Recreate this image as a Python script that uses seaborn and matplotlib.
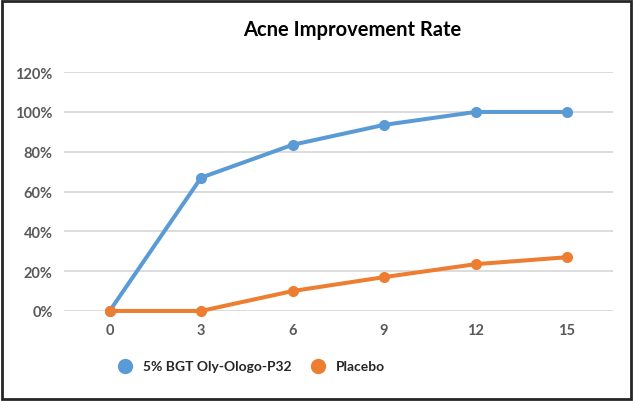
import matplotlib.pyplot as plt
import pandas as pd
import seaborn as sns
from matplotlib.lines import Line2D
from matplotlib.patches import Rectangle

# Data
weeks = ['0', '3', '6', '9', '12', '15']
bgt_rate = [0.0, 0.67, 0.835, 0.935, 1.0, 1.0]
placebo_rate = [0.0, 0.0, 0.10, 0.17, 0.235, 0.27]
series_names = ['5% BGT Oly-Ologo-P32', 'Placebo']
y_ticks = [0, 0.2, 0.4, 0.6, 0.8, 1.0, 1.2]

df = pd.DataFrame({
    'week': weeks * 2,
    'pos': list(range(len(weeks))) * 2,
    'rate': bgt_rate + placebo_rate,
    'series': [series_names[0]] * len(weeks) + [series_names[1]] * len(weeks),
})

sns.set_theme(style='white')
plt.rcParams['font.family'] = ['Lato', 'DejaVu Sans']

palette = {series_names[0]: '#5B9BD5', series_names[1]: '#ED7D31'}
tick_color = '#595959'

fig = plt.figure(figsize=(6.33, 4.02), dpi=100)
ax = fig.add_axes([0.101, 0.224, 0.867, 0.594])

for y in y_ticks:
    ax.axhline(y, color='#d9d9d9', lw=1.3, zorder=0)

# draw each series separately so the placebo line sits on top (as in the original)
for z, name in enumerate(series_names):
    sns.lineplot(data=df[df['series'] == name], x='pos', y='rate', color=palette[name],
                 marker='o', markersize=8, markeredgewidth=0, linewidth=2.9,
                 legend=False, ax=ax, clip_on=False, zorder=3 + z)

ax.set_xlim(-0.5, len(weeks) - 0.5)
ax.set_ylim(0, 1.2)
ax.set_xticks(range(len(weeks)))
ax.set_xticklabels(weeks)
ax.set_yticks(y_ticks)
ax.set_yticklabels([f'{int(round(v * 100))}%' for v in y_ticks])
ax.set_xlabel('')
ax.set_ylabel('')
for side in ax.spines.values():
    side.set_visible(False)
ax.tick_params(axis='both', length=0, labelsize=10.5, colors=tick_color)
ax.tick_params(axis='y', pad=8)
ax.tick_params(axis='x', pad=9)
for lbl in ax.get_xticklabels() + ax.get_yticklabels():
    lbl.set_fontweight('bold')

fig.text(0.556, 0.925, 'Acne Improvement Rate', ha='center', va='center',
         fontsize=14.5, fontweight='bold', color='black')

handles = [Line2D([], [], color=palette[n], marker='o', linestyle='none',
                  markersize=11, markeredgewidth=0) for n in series_names]
fig.legend(handles, series_names, loc='center left', bbox_to_anchor=(0.155, 0.086),
           ncol=2, frameon=False, handletextpad=0.3, columnspacing=0.9,
           prop={'weight': 'bold', 'size': 10})

fig.patches.append(Rectangle((0.003, 0.004), 0.994, 0.992, transform=fig.transFigure,
                             fill=False, edgecolor='#262626', lw=2))

fig.savefig('out.png', dpi=100)
